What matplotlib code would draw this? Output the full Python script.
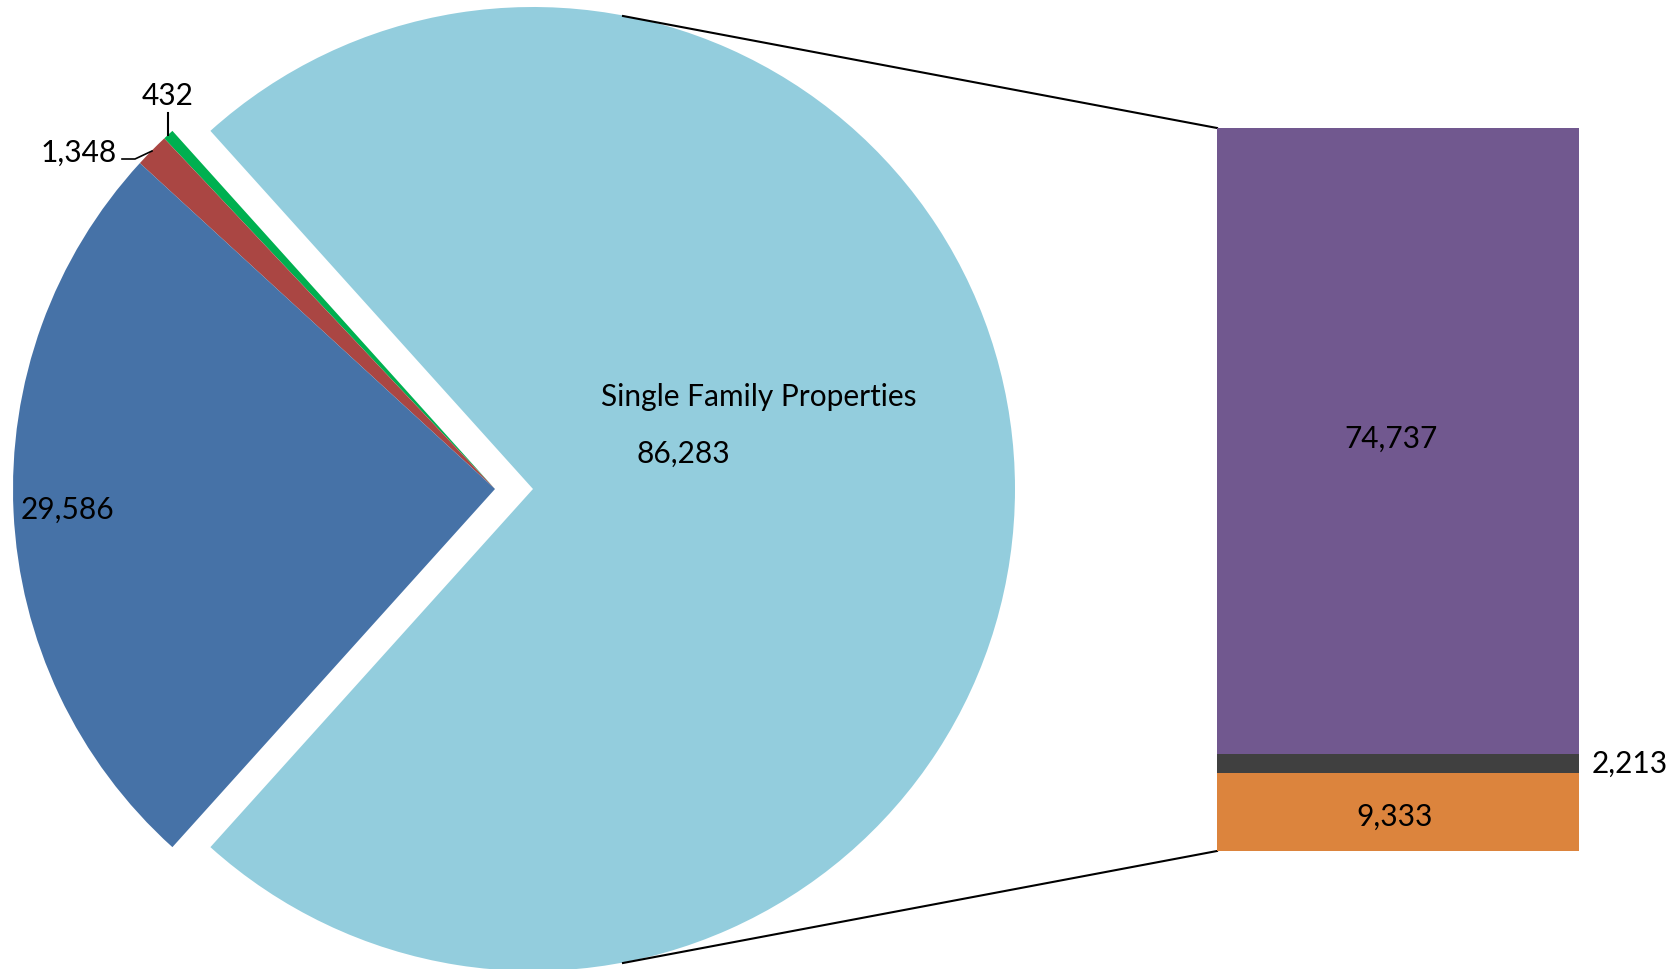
import matplotlib
matplotlib.use("Agg")
import matplotlib.pyplot as plt

# pie values (exploded slice first, then counter-clockwise)
pie_labels = ["Single Family Properties", "Other A", "Other B", "Other C"]
pie_values = [86283, 432, 1348, 29586]
pie_colors = ["#93CDDD", "#00B050", "#AA4643", "#4672A7"]

# bar breaking down the single family slice (bottom to top)
bar_values = [9333, 2213, 74737]
bar_colors = ["#DC843D", "#404040", "#71588F"]

W, H = 1674, 969
plt.rcParams["font.family"] = ["Lato", "DejaVu Sans"]
fs = 21.5

fig = plt.figure(figsize=(W / 100, H / 100), dpi=100)
ax = fig.add_axes([0, 0, 1, 1])

frac = pie_values[0] / sum(pie_values)
# explode is in data units here (pixels)
ax.pie(pie_values, explode=[38, 0, 0, 0], startangle=-frac * 180,
       radius=482, center=(495, H - 489), colors=pie_colors,
       counterclock=True, wedgeprops=dict(linewidth=0))
ax.set_xlim(0, W)
ax.set_ylim(0, H)
ax.set_aspect("equal")
ax.axis("off")

# pie labels
ax.text(759, H - 397, pie_labels[0], fontsize=fs, ha="center", va="center")
ax.text(683, H - 454, f"{pie_values[0]:,}", fontsize=fs, ha="center", va="center")
ax.text(67, H - 510, f"{pie_values[3]:,}", fontsize=fs, ha="center", va="center")
ax.text(168, H - 96, f"{pie_values[1]:,}", fontsize=fs, ha="center", va="center")
ax.text(117, H - 153, f"{pie_values[2]:,}", fontsize=fs, ha="right", va="center")
# leader lines
ax.plot([168, 168], [H - 113, H - 135], color="black", lw=1.5)
ax.plot([122, 135, 152], [H - 159, H - 159, H - 151], color="black", lw=1.2)

# connector lines to the bar
ax.plot([623, 1217], [H - 16, H - 128], color="black", lw=1.5)
ax.plot([623, 1217], [H - 963, H - 851], color="black", lw=1.5)

# stacked bar
bx0, bx1, by0, by1 = 1217, 1579, 128, 851
axb = fig.add_axes([bx0 / W, (H - by1) / H, (bx1 - bx0) / W, (by1 - by0) / H])
bottom = 0
for v, c in zip(bar_values, bar_colors):
    axb.bar(0, v, width=1, bottom=bottom, color=c, linewidth=0)
    bottom += v
axb.set_xlim(-0.5, 0.5)
axb.set_ylim(0, sum(bar_values))
axb.axis("off")

axb.text(-0.02, bar_values[0] + bar_values[1] + bar_values[2] / 2 + 300, f"{bar_values[2]:,}",
         fontsize=fs, ha="center", va="center")
axb.text(-0.01, bar_values[0] / 2 - 600, f"{bar_values[0]:,}",
         fontsize=fs, ha="center", va="center")
axb.text(0.64, bar_values[0] + bar_values[1] / 2, f"{bar_values[1]:,}",
         fontsize=fs, ha="center", va="center", clip_on=False)

fig.savefig("out.png", dpi=100)
